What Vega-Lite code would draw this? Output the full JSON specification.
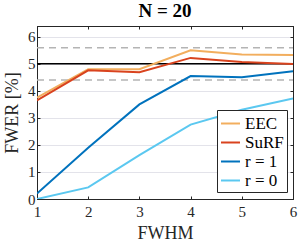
{
  "$schema": "https://vega.github.io/schema/vega-lite/v6.json",
  "width": 256,
  "height": 173,
  "autosize": "none",
  "padding": {"left": 37, "top": 26, "right": 6, "bottom": 49},
  "background": "white",
  "title": {"text": "N = 20", "font": "Liberation Serif", "fontSize": 19, "fontWeight": "bold", "color": "#000000", "anchor": "middle", "offset": 5},
  "config": {
    "view": {"stroke": "#262626", "strokeWidth": 1},
    "axis": {"labelFont": "Liberation Serif", "titleFont": "Liberation Serif", "labelFontSize": 15, "titleFontSize": 18, "titleFontWeight": "normal", "labelColor": "#262626", "titleColor": "#262626", "gridColor": "#e3e3ea", "gridWidth": 1, "domainColor": "#262626", "tickColor": "#262626", "tickSize": -3, "labelOverlap": false, "labelFlush": false},
    "legend": {"labelFont": "Liberation Serif", "labelFontWeight": "normal"}
  },
  "resolve": {"axis": {"x": "independent", "y": "independent"}},
  "layer": [
    {
      "data": {"values": [{"y": 5.6}, {"y": 4.4}]},
      "mark": {"type": "rule", "color": "#b4b4b4", "strokeWidth": 1.5, "strokeDash": [7, 5]},
      "encoding": {
        "x": {"datum": 1, "type": "quantitative", "scale": {"domain": [1, 6]}, "axis": {"orient": "top", "values": [1, 2, 3, 4, 5, 6], "labels": false, "grid": false, "title": null}},
        "x2": {"datum": 6},
        "y": {"field": "y", "type": "quantitative", "scale": {"domain": [0, 6.4], "nice": false}, "axis": {"values": [0, 1, 2, 3, 4, 5, 6], "title": "FWER [%]", "titlePadding": 6, "labelPadding": 5}}
      }
    },
    {
      "data": {"values": [{"y": 5}]},
      "mark": {"type": "rule", "color": "#000000", "strokeWidth": 1.5},
      "encoding": {"y": {"field": "y", "type": "quantitative", "axis": {"orient": "right", "values": [0, 1, 2, 3, 4, 5, 6], "labels": false, "grid": false, "title": null}}}
    },
    {
      "data": {"values": [
        {"series": "EEC", "fwhm": 1, "fwer": 3.75},
        {"series": "EEC", "fwhm": 2, "fwer": 4.8},
        {"series": "EEC", "fwhm": 3, "fwer": 4.8},
        {"series": "EEC", "fwhm": 4, "fwer": 5.5},
        {"series": "EEC", "fwhm": 5, "fwer": 5.35},
        {"series": "EEC", "fwhm": 6, "fwer": 5.33},
        {"series": "SuRF", "fwhm": 1, "fwer": 3.65},
        {"series": "SuRF", "fwhm": 2, "fwer": 4.76},
        {"series": "SuRF", "fwhm": 3, "fwer": 4.69},
        {"series": "SuRF", "fwhm": 4, "fwer": 5.22},
        {"series": "SuRF", "fwhm": 5, "fwer": 5.07},
        {"series": "SuRF", "fwhm": 6, "fwer": 4.99},
        {"series": "r = 1", "fwhm": 1, "fwer": 0.2},
        {"series": "r = 1", "fwhm": 2, "fwer": 1.9},
        {"series": "r = 1", "fwhm": 3, "fwer": 3.5},
        {"series": "r = 1", "fwhm": 4, "fwer": 4.55},
        {"series": "r = 1", "fwhm": 5, "fwer": 4.5},
        {"series": "r = 1", "fwhm": 6, "fwer": 4.73},
        {"series": "r = 0", "fwhm": 1, "fwer": 0.0},
        {"series": "r = 0", "fwhm": 2, "fwer": 0.43},
        {"series": "r = 0", "fwhm": 3, "fwer": 1.62},
        {"series": "r = 0", "fwhm": 4, "fwer": 2.75},
        {"series": "r = 0", "fwhm": 5, "fwer": 3.3},
        {"series": "r = 0", "fwhm": 6, "fwer": 3.72}
      ]},
      "mark": {"type": "line", "strokeWidth": 2, "clip": true},
      "encoding": {
        "x": {"field": "fwhm", "type": "quantitative", "axis": {"values": [1, 2, 3, 4, 5, 6], "title": "FWHM", "titlePadding": 5, "labelPadding": 8}},
        "y": {"field": "fwer", "type": "quantitative", "axis": null},
        "color": {
          "field": "series", "type": "nominal",
          "scale": {"domain": ["EEC", "SuRF", "r = 1", "r = 0"], "range": ["#F2AE5E", "#D9431E", "#0072BD", "#5BC8F0"]},
          "legend": {"title": null, "orient": "none", "legendX": 180, "legendY": 84, "symbolType": "stroke", "symbolStrokeWidth": 2, "symbolSize": 360, "labelFont": "Liberation Serif", "labelFontSize": 17, "labelColor": "#000000", "strokeColor": "#262626", "fillColor": "#ffffff", "padding": 3, "rowPadding": 0, "labelOffset": 4}
        }
      }
    }
  ]
}
